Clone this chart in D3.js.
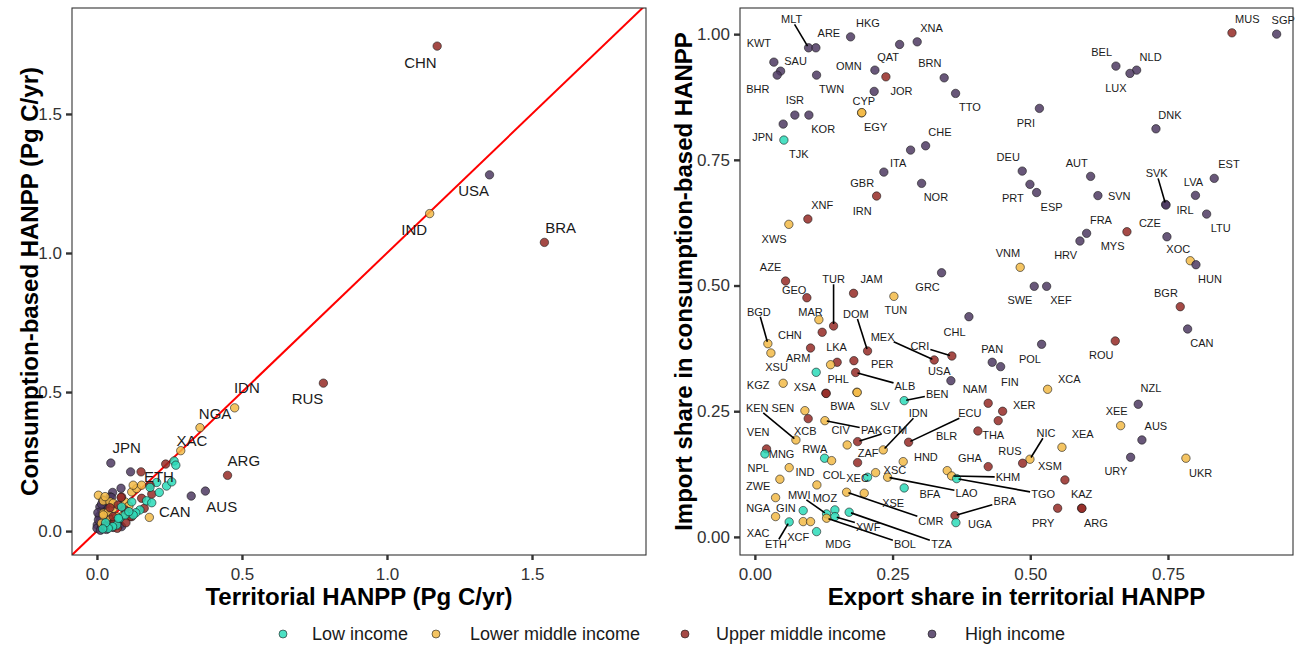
<!DOCTYPE html>
<html>
<head>
<meta charset="utf-8">
<script src="https://cdn.jsdelivr.net/npm/d3@7"></script>
<style>
  body { margin: 0; background: #fff; }
</style>
</head>
<body>
<svg id="chart" width="1301" height="646"></svg>
<script>
// income groups: W = low, L = lower middle, U = upper middle, H = high
const groupKeys = ["W", "L", "U", "H"];
const groupNames = ["Low income", "Lower middle income", "Upper middle income", "High income"];

// ---- left panel: territorial vs consumption-based HANPP (Pg C/yr)
const leftCodes = ["CHN","USA","IND","BRA","RUS","IDN","NGA","XAC","JPN","ARG","AUS","CAN","ETH",
  "","","","","","","","","","","","","","","","","","","","","","","","","","","","","","","","",
  "","","","","","","","","","","","","","","","","","","","","","","",
  "","","","","","","","","","","","","","","","","","","",
  "","","","","","","","","","","","","","","","","","","","","",""];
const leftTerritorial = [1.173,1.3535,1.1472,1.5427,0.7807,0.4748,0.3552,0.2889,0.0479,0.4503,0.3738,0.1807,0.2059,
  // high income, unlabelled
  0.116,0.325,0.054,0.045,0.028,0.022,0.016,0.008,0.010,0.001,0.000,0.016,0.033,0.056,0.051,0.028,0.033,0.039,0.079,0.085,0.010,0.020,0.083,0.050,0.016,0.005,0.012,0.024,0.040,0.062,0.070,0.003,0.045,
  // lower middle
  0.005,0.022,0.045,0.022,0.039,0.056,0.097,0.120,0.137,0.154,0.125,0.068,0.091,0.016,0.045,0.102,0.028,0.056,0.022,0.030,0.060,0.110,
  // upper middle
  0.152,0.237,0.183,0.189,0.163,0.085,0.073,0.097,0.120,0.154,0.045,0.062,0.028,0.083,0.045,0.056,0.114,0.100,0.070,
  // low
  0.148,0.134,0.079,0.068,0.054,0.039,0.097,0.125,0.171,0.189,0.215,0.240,0.258,0.266,0.272,0.183,0.085,0.120,0.074,0.030,0.020,0.110];
const leftConsumption = [1.744,1.281,1.1417,1.0381,0.532,0.4432,0.3719,0.2892,0.2446,0.2004,0.1439,0.0493,0.1748,
  0.213,0.126,0.139,0.123,0.105,0.094,0.076,0.054,0.034,0.022,0.010,0.013,0.006,0.013,0.028,0.040,0.058,0.082,0.022,0.016,0.087,0.112,0.154,0.121,0.097,0.040,0.003,0.020,0.015,0.028,0.030,0.066,0.045,
  0.129,0.109,0.105,0.064,0.069,0.082,0.105,0.141,0.153,0.165,0.165,0.052,0.058,0.028,0.040,0.073,0.124,0.100,0.058,0.018,0.034,0.090,
  0.213,0.241,0.165,0.133,0.082,0.123,0.094,0.076,0.052,0.118,0.022,0.034,0.018,0.121,0.084,0.052,0.052,0.030,0.010,
  0.076,0.066,0.046,0.022,0.016,0.010,0.058,0.058,0.109,0.102,0.139,0.162,0.177,0.252,0.237,0.157,0.087,0.105,0.046,0.030,0.008,0.070];
const leftGroup = ["U","H","L","U","U","L","L","L","H","U","H","L","W",
  "H","H","H","H","H","H","H","H","H","H","H","H","H","H","H","H","H","H","H","H","H","H","H","H","H","H","H","H","H","H","H","H","H",
  "L","L","L","L","L","L","L","L","L","L","L","L","L","L","L","L","L","L","L","L","L","L",
  "U","U","U","U","U","U","U","U","U","U","U","U","U","U","U","U","U","U","U",
  "W","W","W","W","W","W","W","W","W","W","W","W","W","W","W","W","W","W","W","W","W","W"];
const leftTicks = [0, 0.5, 1.0, 1.5];

// ---- right panel: export share vs import share
const rightCodes = ["MLT","ARE","HKG","KWT","SAU","BHR","TWN","OMN","QAT","XNA","","BRN","JOR","TTO","EGY","CYP",
  "ISR","KOR","JPN","TJK","CHE","ITA","GBR","NOR","IRN","DEU","PRT","ESP","PRI","MUS","SGP","BEL","NLD","LUX",
  "DNK","AUT","SVN","SVK","IRL","EST","LVA","LTU","FRA","HRV","MYS","CZE","XOC","HUN","VNM","SWE","XEF","BGR",
  "CAN","ROU","POL","FIN","PAN","XNF","XWS","AZE","GEO","TUR","JAM","GRC","TUN","BGD","XSU","MAR","CHN","ARM",
  "LKA","","PER","DOM","CHL","MEX","CRI","USA","","ALB","KGZ","XSA","BWA","PHL","SLV","BEN","NAM","XER","THA",
  "BLR","XCA","NZL","XEE","AUS","URY","UKR","NIC","RUS","XEA","XSM","KAZ","ARG","PRY","SEN","XCB","PAK","KEN",
  "GTM","CIV","IDN","ECU","VEN","MNG","RWA","COL","ZAF","HND","GHA","NPL","XEC","XSC","LAO","","KHM","TGO",
  "ZWE","IND","CMR","XSE","BFA","BRA","UGA","NGA","XAC","GIN","XCF","","ETH","MDG","MWI","MOZ","XWF","BOL","TZA"];
const rightExport = [0.0975,0.1108,0.1738,0.0345,0.0467,0.0405,0.1120,0.2179,0.2379,0.2947,0.2628,0.3437,0.2166,0.3644,0.1938,0.1941,
  0.0726,0.0981,0.0514,0.0527,0.3100,0.2827,0.2342,0.3027,0.2210,0.4854,0.4994,0.5115,0.5166,0.8662,0.9473,0.6555,0.6931,0.6810,
  0.7282,0.6096,0.6228,0.7458,0.7464,0.8340,0.7999,0.8202,0.6023,0.5902,0.6755,0.7481,0.7905,0.8008,0.4817,0.5072,0.5297,0.7723,
  0.7857,0.6543,0.5206,0.4462,0.4309,0.0962,0.0617,0.0557,0.0944,0.1429,0.1792,0.3390,0.2524,0.0236,0.0291,0.1162,0.1222,0.1011,
  0.1494,0.1375,0.1798,0.2046,0.3886,0.3256,0.3577,0.3559,0.1113,0.1829,0.0514,0.1289,0.1295,0.1852,0.1858,0.2711,0.4236,0.4498,0.4418,
  0.4049,0.5315,0.6960,0.6641,0.7027,0.6822,0.7826,0.4994,0.4861,0.5575,0.5629,0.5932,0.5938,0.5497,0.0908,0.0968,0.1271,0.0745,
  0.1865,0.1676,0.2330,0.2791,0.0212,0.0182,0.1266,0.1393,0.1865,0.2693,0.4236,0.0623,0.2046,0.2192,0.2410,0.3492,0.3572,0.3663,
  0.0454,0.1126,0.1665,0.1985,0.2711,0.3632,0.3650,0.0376,0.0376,0.0877,0.0877,0.1011,0.0623,0.1120,0.1302,0.1453,0.1453,0.1302,0.1712];
const rightImport = [0.9728,0.9728,0.9946,0.9443,0.9264,0.9185,0.9185,0.9284,0.9151,0.9847,0.9795,0.9131,0.8861,0.8821,0.8435,0.8439,
  0.8390,0.8390,0.8211,0.7893,0.7779,0.7694,0.7256,0.7032,0.6780,0.7276,0.7012,0.6849,0.8523,1.0026,1.0000,0.9364,0.9284,0.9219,
  0.8117,0.7171,0.6789,0.6614,0.6600,0.7131,0.6793,0.6421,0.6038,0.5885,0.6070,0.5970,0.5493,0.5414,0.5362,0.4984,0.4984,0.4579,
  0.4135,0.3897,0.3831,0.3386,0.3473,0.6322,0.6217,0.5089,0.4757,0.4195,0.4845,0.5254,0.4785,0.3843,0.3658,0.4320,0.4070,0.3757,
  0.3473,0.3425,0.3505,0.3698,0.4380,0.3519,0.3598,0.3107,0.3274,0.3270,0.3056,0.2857,0.2853,0.2877,0.2873,0.2710,0.2658,0.2499,0.2312,
  0.2107,0.2936,0.2638,0.2213,0.1928,0.1584,0.1565,0.1545,0.1465,0.1783,0.1133,0.0571,0.0567,0.0571,0.2511,0.2352,0.2312,0.1928,
  0.1895,0.1829,0.1730,0.1883,0.1750,0.1650,0.1565,0.1517,0.1477,0.1497,0.1398,0.1378,0.1187,0.1278,0.1187,0.1318,0.1213,0.1159,
  0.1147,0.1034,0.0889,0.0869,0.0974,0.0423,0.0284,0.0781,0.0404,0.0523,0.0304,0.0304,0.0298,0.0105,0.0457,0.0537,0.0404,0.0372,0.0491];
const rightGroup = ["H","H","H","H","H","H","H","H","U","H","H","H","H","H","L","L",
  "H","H","H","W","H","H","H","H","U","H","H","H","H","U","H","H","H","H",
  "H","H","H","H","H","H","H","H","H","H","U","H","L","H","L","H","H","U",
  "H","U","H","H","H","U","L","U","U","U","U","H","L","L","L","L","U","U",
  "U","L","U","U","H","U","U","H","W","U","L","U","U","L","L","W","U","U","U",
  "U","L","H","L","H","H","L","L","U","L","U","U","U","U","L","U","L","L",
  "U","L","L","U","U","W","W","L","U","L","U","L","W","L","L","L","L","W",
  "L","L","L","L","W","U","W","L","L","W","L","L","W","W","W","W","W","L","W"];
const rightXTicks = [0, 0.25, 0.5, 0.75];
const rightYTicks = [0, 0.25, 0.5, 0.75, 1.0];

// label placement (pixel nudges from the point, 1 = draw a leader segment)
const leftNudge = {
  CHN: [-16.7, 16.5], USA: [-15.9, 15.6], IND: [-15.5, 15.6], BRA: [16.3, -15.2], RUS: [-15.9, 15.3],
  IDN: [12.2, -20.1], NGA: [15.1, -14], XAC: [11.3, -10.3], JPN: [15.9, -15.7], ARG: [16.3, -15.2],
  AUS: [16.4, 15.6], CAN: [25.5, -5.8], ETH: [2.3, -5.6]
};
const rightNudge = {
  MLT: [-17, -28.4, 1], ARE: [13, -14.7], HKG: [17.3, -13.7], KWT: [-15, -19.3], SAU: [15, -10], BHR: [-19.3, 14.3],
  TWN: [15, 14.3], OMN: [-26, -4.3], QAT: [2.3, -20], XNA: [14.4, -14], BRN: [-14.3, -14.4], JOR: [27.4, -0.6],
  TTO: [14.3, 14], EGY: [14, 14], CYP: [2.1, -11.2], ISR: [0, -15], KOR: [14.3, 14], JPN: [-20.6, 12.7], TJK: [15, 14],
  CHE: [14.3, -13.7], ITA: [-12.4, 12.7], GBR: [-21.7, 10.7], NOR: [14.3, 14], IRN: [-14.4, 15], DEU: [-14, -14.3],
  PRT: [-17, 13.7], ESP: [15, 14.2], PRI: [-13.5, 14.4], MUS: [15.3, -13.4], SGP: [6.6, -14], BEL: [-14.3, -13.7],
  NLD: [14, -13.3], LUX: [-14, 15], DNK: [14, -13.7], AUT: [-14, -13], SVN: [21.3, 0.5], SVK: [-9, -31, 1], IRL: [19, 5],
  EST: [14.7, -14], LVA: [-2, -13.3], LTU: [14, 14.3], FRA: [14.3, -13.3], HRV: [-14.3, 14], MYS: [-14.3, 14.3],
  CZE: [-17, -14], XOC: [-12, -11.4], HUN: [14, 14.6], VNM: [-12.3, -14.3], SWE: [-14.3, 14], XEF: [14.3, 14],
  BGR: [-14.3, -13.7], CAN: [14.3, 14.3], ROU: [-14, 14], POL: [-11.7, 14.7], FIN: [9.3, 15], PAN: [0, -13.6],
  XNF: [14.3, -14], XWS: [-14.7, 15], AZE: [-15, -13.7], GEO: [-12.7, -7.7], TUR: [0, -46.7, 1], JAM: [18, -14],
  GRC: [-14, 14.6], TUN: [2, 13.7], BGD: [-9, -32, 1], XSU: [5.7, 13.7], MAR: [-8.3, -8], CHN: [-32.3, 2.7],
  ARM: [-12.4, 10.3], LKA: [-0.6, -15.6], PER: [28.3, 3.6], DOM: [-11.7, -37, 1], CHL: [-14.3, 15],
  MEX: [-51.6, -23.3, 1], CRI: [-32, -9.7, 1], USA: [-11.7, -9.7], ALB: [49.3, 13.5, 1], KGZ: [-25, 1.4],
  XSA: [-21, -6.6], BWA: [16.4, 12.5], PHL: [-18.7, -13], SLV: [22.7, 13.5], BEN: [33, -6.7, 1], NAM: [-13.3, -14],
  XER: [21.6, -6.3], THA: [-5, 14.3], BLR: [-31.3, 5], XCA: [21.6, -10.3], NZL: [12.7, -16.6], XEE: [-4, -15],
  AUS: [14, -14], URY: [-14.7, 13.4], UKR: [14.7, 14.4], NIC: [16, -26, 1], RUS: [-12.7, -12.6], XEA: [20.7, -13.3],
  XSM: [-15, -14], KAZ: [0, -14], ARG: [14, 14.2], PRY: [-14.4, 14.4], SEN: [-22, -2.7], XCB: [-3, 12],
  PAK: [46.7, 9.3, 1], KEN: [-38.7, -32, 1], GTM: [37.3, -11.7, 1], CIV: [-6.6, -15], IDN: [35, -36.7, 1],
  ECU: [61.3, -29, 1], VEN: [-8.4, -17.3], MNG: [16.7, 0], RWA: [-9.7, -9], COL: [2.5, 14.3], ZAF: [10.6, -10],
  HND: [22.7, -5], GHA: [-18.3, -8.4], NPL: [-31, 0.6], XEC: [-10, 1], XSC: [19.3, -2.7], LAO: [79, 15.4, 1],
  KHM: [56.3, 1.3, 1], TGO: [86.6, 15.6, 1], ZWE: [-21.7, 6.7], IND: [-12, -13.3], CMR: [84.3, 28.7, 1],
  XSE: [29, 9.4], BFA: [25.7, 6], BRA: [50, -14.7, 1], UGA: [24, 1.3], NGA: [-17.4, 10.6], XAC: [-17.4, 16],
  GIN: [-17.3, -3], XCF: [-5, 15], ETH: [-13.3, 22.3, 1], MDG: [21.6, 12.6], MWI: [-27.4, -19, 1],
  MOZ: [-10, -11.7], XWF: [33.3, 10, 1], BOL: [78.3, 26, 1], TZA: [92.4, 32, 1]
};

const FONT = "'Liberation Sans', Arial, Helvetica, sans-serif";
const color = d3.scaleOrdinal().domain(groupKeys).range(["#2cdab8", "#f2ba46", "#952a26", "#4d3a61"]);

const svg = d3.select("#chart").style("font-family", FONT);

function drawPanel(o) {
  const g = svg.append("g");
  const [x0, x1] = o.x.range();
  const [y1, y0] = o.y.range();

  const clipId = "clip" + o.id;
  svg.append("clipPath").attr("id", clipId)
    .append("rect").attr("x", x0).attr("y", y0).attr("width", x1 - x0).attr("height", y1 - y0);

  // axes
  const xa = g.append("g").attr("transform", `translate(0,${y1})`)
    .call(d3.axisBottom(o.x).tickValues(o.xTicks).tickFormat(o.fmt).tickSize(5).tickPadding(8));
  const ya = g.append("g").attr("transform", `translate(${x0},0)`)
    .call(d3.axisLeft(o.y).tickValues(o.yTicks).tickFormat(o.fmt).tickSize(6).tickPadding(4));
  [xa, ya].forEach(a => {
    a.attr("font-family", FONT).attr("font-size", 17);
    a.select(".domain").remove();
    a.selectAll(".tick line").attr("stroke", "#333").attr("stroke-width", 2.4);
    a.selectAll(".tick text").attr("fill", "#333");
  });

  if (o.diag) {
    const dom = o.x.domain();
    g.append("line").attr("clip-path", `url(#${clipId})`)
      .attr("x1", o.x(dom[0] - 1)).attr("y1", o.y(dom[0] - 1))
      .attr("x2", o.x(dom[1] + 1)).attr("y2", o.y(dom[1] + 1))
      .attr("stroke", "#ff0000").attr("stroke-width", 2);
  }

  const data = o.codes.map((c, i) => ({ code: c, x: o.xs[i], y: o.ys[i], g: o.grp[i] }));

  g.append("g").selectAll("circle").data(data).enter().append("circle")
    .attr("cx", d => o.x(d.x)).attr("cy", d => o.y(d.y)).attr("r", o.r)
    .attr("fill", d => color(d.g)).attr("fill-opacity", 0.85)
    .attr("stroke", "#1a1a1a").attr("stroke-width", 0.6);

  // labels and leader segments
  const lab = g.append("g");
  data.filter(d => d.code && o.nudge[d.code]).forEach(d => {
    const [dx, dy, seg] = o.nudge[d.code];
    const px = o.x(d.x), py = o.y(d.y);
    const cx = px + dx, cy = py + dy;
    const t = lab.append("text").attr("x", cx).attr("y", cy)
      .attr("text-anchor", "middle").attr("dominant-baseline", "central")
      .attr("font-size", o.labelSize).attr("fill", "#1a1a1a").text(d.code);
    if (seg) {
      const bb = t.node().getBBox();
      const hw = bb.width / 2 + 1, hh = bb.height / 2 - 1;
      const vx = px - cx, vy = py - cy;
      const s = Math.min(Math.abs(vx) > 0 ? hw / Math.abs(vx) : Infinity, Math.abs(vy) > 0 ? hh / Math.abs(vy) : Infinity);
      const ex = cx + vx * s, ey = cy + vy * s;
      const len = Math.hypot(px - ex, py - ey);
      const k = Math.max(0, (len - 2) / len);
      lab.insert("line", ":first-child")
        .attr("x1", ex).attr("y1", ey)
        .attr("x2", ex + (px - ex) * k).attr("y2", ey + (py - ey) * k)
        .attr("stroke", "#000").attr("stroke-width", 1.6);
    }
  });

  // panel border
  g.append("rect").attr("x", x0).attr("y", y0).attr("width", x1 - x0).attr("height", y1 - y0)
    .attr("fill", "none").attr("stroke", "#333").attr("stroke-width", 1.1);

  // titles
  g.append("text").attr("x", (x0 + x1) / 2).attr("y", 605).attr("text-anchor", "middle")
    .attr("font-size", 24).attr("font-weight", "bold").attr("fill", "#000").text(o.xTitle);
  g.append("text").attr("transform", `translate(${o.yTitleX},${(y0 + y1) / 2}) rotate(-90)`)
    .attr("text-anchor", "middle").attr("font-size", 24).attr("font-weight", "bold")
    .attr("fill", "#000").text(o.yTitle);
}

drawPanel({
  id: "L",
  x: d3.scaleLinear().domain([-0.086, 1.893]).range([72, 646]),
  y: d3.scaleLinear().domain([-0.086, 1.881]).range([555, 8]),
  codes: leftCodes, xs: leftTerritorial, ys: leftConsumption, grp: leftGroup,
  nudge: leftNudge, labelSize: 15, r: 4.2,
  xTicks: leftTicks, yTicks: leftTicks, fmt: d3.format(".1f"), diag: true,
  xTitle: "Territorial HANPP (Pg C/yr)", yTitle: "Consumption-based HANPP (Pg C/yr)", yTitleX: 38
});

drawPanel({
  id: "R",
  x: d3.scaleLinear().domain([-0.027, 0.977]).range([740, 1293]),
  y: d3.scaleLinear().domain([-0.036, 1.052]).range([555, 8]),
  codes: rightCodes, xs: rightExport, ys: rightImport, grp: rightGroup,
  nudge: rightNudge, labelSize: 11, r: 4.2,
  xTicks: rightXTicks, yTicks: rightYTicks, fmt: d3.format(".2f"), diag: false,
  xTitle: "Export share in territorial HANPP", yTitle: "Import share in consumption-based HANPP", yTitleX: 692
});

// legend
const legendKeyX = [283, 436, 685, 932];
const legendTextX = [312, 470, 716, 965];
const legend = svg.append("g").selectAll("g").data(groupKeys).enter().append("g");
legend.append("circle").attr("cx", (d, i) => legendKeyX[i]).attr("cy", 634).attr("r", 4)
  .attr("fill", d => color(d)).attr("fill-opacity", 0.85)
  .attr("stroke", "#1a1a1a").attr("stroke-width", 0.6);
legend.append("text").attr("x", (d, i) => legendTextX[i]).attr("y", 634).attr("dominant-baseline", "central")
  .attr("font-size", 18).attr("fill", "#1a1a1a").text((d, i) => groupNames[i]);
</script>
</body>
</html>
